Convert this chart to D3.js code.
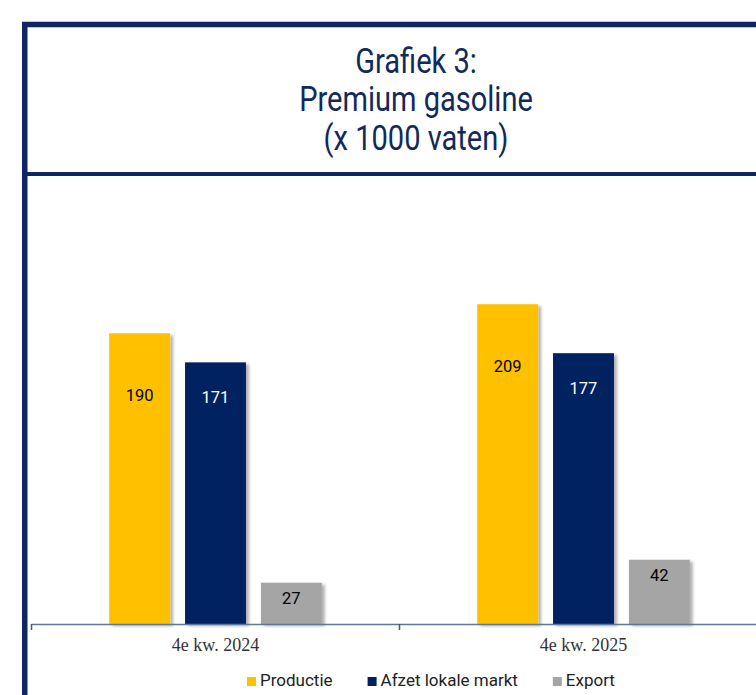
<!DOCTYPE html>
<html>
<head>
<meta charset="utf-8">
<script src="https://cdn.jsdelivr.net/npm/d3@7"></script>
<style>
  body { margin: 0; background: #fff; }
  svg { display: block; }
</style>
</head>
<body>
<div id="chart"></div>
<script>
// Data
var titleLines = ["Grafiek 3:", "Premium gasoline", "(x 1000 vaten)"];
var categories = ["4e kw. 2024", "4e kw. 2025"];
var series = ["Productie", "Afzet lokale markt", "Export"];
var productie = [190, 209];
var afzet = [171, 177];
var exportValues = [27, 42];

var values = [productie, afzet, exportValues];
var colors = ["#FFC000", "#002060", "#A5A5A5"];
var labelColors = ["#000", "#fff", "#000"];
var labelOffset = [68, 41, 21];      // baseline distance below bar top

var width = 756, height = 695;
var frameColor = "#0E2763";

var svg = d3.select("#chart")
            .append("svg")
            .attr("width", width)
            .attr("height", height);

// drop shadow for the bars
var defs = svg.append("defs");
defs.append("filter")
    .attr("id", "shadow")
    .attr("x", "-20%").attr("y", "-20%")
    .attr("width", "150%").attr("height", "140%")
    .append("feDropShadow")
    .attr("dx", 3)
    .attr("dy", 2)
    .attr("stdDeviation", 1.5)
    .attr("flood-color", "#000")
    .attr("flood-opacity", 0.3);

// Frame around title and chart
svg.append("rect")
   .attr("x", 24.75)
   .attr("y", 24.5)
   .attr("width", 1000)
   .attr("height", 1000)
   .attr("fill", "none")
   .attr("stroke", frameColor)
   .attr("stroke-width", 5.5);

svg.append("line")
   .attr("x1", 22).attr("x2", width)
   .attr("y1", 174).attr("y2", 174)
   .attr("stroke", frameColor)
   .attr("stroke-width", 4);

// Title (narrow, like a condensed face)
var titleX = 416;
var title = svg.append("g")
               .attr("transform", "translate(" + titleX + ",0) scale(0.83,1)");
title.selectAll("text")
     .data(titleLines)
     .enter()
     .append("text")
     .attr("x", 0)
     .attr("y", function(d, i) { return 73 + i * 38.5; })
     .attr("text-anchor", "middle")
     .attr("font-family", "Roboto")
     .attr("font-size", 35)
     .attr("fill", "#112A5A")
     .text(function(d) { return d; });

// Scales
var x0 = d3.scaleBand()
           .domain(categories)
           .range([31.5, 31.5 + 368 * categories.length]);

var x1 = d3.scaleBand()
           .domain(series)
           .range([0, x0.bandwidth()])
           .paddingInner(0.197)
           .paddingOuter(1.024);

var y = d3.scaleLinear()
          .domain([0, 250])
          .range([624, 241.5]);

// Bars
var groups = svg.append("g")
                .selectAll("g")
                .data(categories)
                .enter()
                .append("g")
                .attr("transform", function(d) { return "translate(" + x0(d) + ",0)"; });

groups.selectAll("rect")
      .data(function(d, ci) { return series.map(function(s, si) { return {s: s, si: si, v: values[si][ci]}; }); })
      .enter()
      .append("rect")
      .attr("x", function(d) { return x1(d.s); })
      .attr("y", function(d) { return y(d.v); })
      .attr("width", x1.bandwidth())
      .attr("height", function(d) { return y(0) - y(d.v); })
      .attr("fill", function(d) { return colors[d.si]; })
      .attr("filter", "url(#shadow)");

groups.selectAll("text")
      .data(function(d, ci) { return series.map(function(s, si) { return {s: s, si: si, v: values[si][ci]}; }); })
      .enter()
      .append("text")
      .attr("x", function(d) { return x1(d.s) + x1.bandwidth() / 2; })
      .attr("y", function(d) { return y(d.v) + labelOffset[d.si]; })
      .attr("text-anchor", "middle")
      .attr("font-family", "Roboto")
      .attr("font-size", 16.5)
      .attr("fill", function(d) { return labelColors[d.si]; })
      .text(function(d) { return d.v; });

// Axis
var axisColor = "#5B7A9B";
var axis = svg.append("g");
axis.append("line")
    .attr("x1", x0.range()[0]).attr("x2", width)
    .attr("y1", y(0) + 0.5).attr("y2", y(0) + 0.5)
    .attr("stroke", axisColor)
    .attr("stroke-width", 1.5);

axis.selectAll(".tick")
    .data(categories)
    .enter()
    .append("line")
    .attr("x1", function(d) { return x0(d); })
    .attr("x2", function(d) { return x0(d); })
    .attr("y1", y(0))
    .attr("y2", y(0) + 6)
    .attr("stroke", "#3E5A7E")
    .attr("stroke-width", 1.5);

axis.selectAll(".label")
    .data(categories)
    .enter()
    .append("text")
    .attr("x", function(d) { return x0(d) + x0.bandwidth() / 2; })
    .attr("y", 651)
    .attr("text-anchor", "middle")
    .attr("font-family", "Liberation Serif")
    .attr("font-size", 18)
    .attr("fill", "#333")
    .text(function(d) { return d; });

// Legend
var legend = svg.append("g").attr("transform", "translate(247,0)");
var lx = 0;
series.forEach(function(s, i) {
    var item = legend.append("g").attr("transform", "translate(" + lx + ",0)");
    item.append("rect")
        .attr("x", 0).attr("y", 677)
        .attr("width", 9).attr("height", 9)
        .attr("fill", colors[i]);
    var t = item.append("text")
        .attr("x", 13).attr("y", 686)
        .attr("font-family", "Roboto")
        .attr("font-size", 17)
        .attr("fill", "#222")
        .text(s);
    lx += 13 + t.node().getComputedTextLength() + 35;
});
</script>
</body>
</html>
